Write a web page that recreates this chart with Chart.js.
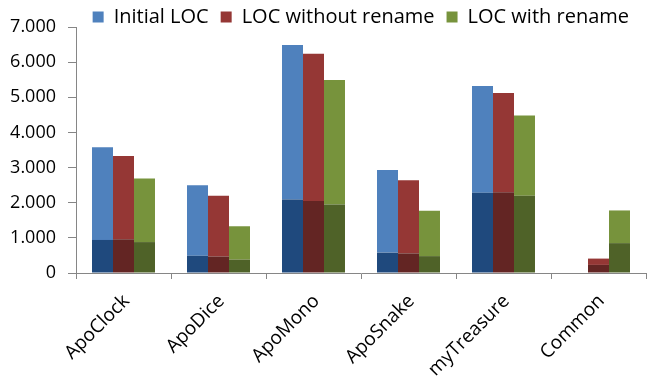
<!DOCTYPE html>
<html>
<head>
<meta charset="utf-8">
<script src="https://cdn.jsdelivr.net/npm/chart.js@4/dist/chart.umd.min.js"></script>
<style>
  html, body { margin: 0; padding: 0; background: #ffffff; }
  #wrap { width: 647px; height: 377px; }
</style>
</head>
<body>
<div id="wrap"><canvas id="c" width="647" height="377"></canvas></div>
<script>
// Projects compared
const categories = ['ApoClock', 'ApoDice', 'ApoMono', 'ApoSnake', 'myTreasure', 'Common'];

// Total lines of code per variant
const initialTotal   = [3580, 2500, 6490, 2930, 5320, 0];
const noRenameTotal  = [3330, 2200, 6240, 2640, 5120, 410];
const renameTotal    = [2690, 1330, 5490, 1770, 4480, 1780];

// Dark lower part of each bar
const initialBase    = [940, 490, 2090, 580, 2280, 0];
const noRenameBase   = [960, 470, 2050, 560, 2300, 230];
const renameBase     = [880, 380, 1950, 480, 2200, 850];

// Value-axis tick labels
const yTicks = ['0', '1.000', '2.000', '3.000', '4.000', '5.000', '6.000', '7.000'];

const seriesNames = ['Initial LOC', 'LOC without rename', 'LOC with rename'];
const lightColors = ['#4F81BD', '#953735', '#77933C'];
const darkColors  = ['#1F497D', '#632523', '#4F6228'];

const totals = [initialTotal, noRenameTotal, renameTotal];
const bases  = [initialBase, noRenameBase, renameBase];

const datasets = [];
totals.forEach((tot, i) => {
  datasets.push({
    label: seriesNames[i] + ' (base)',
    data: bases[i],
    backgroundColor: darkColors[i],
    stack: 's' + i,
    isBase: true
  });
  datasets.push({
    label: seriesNames[i],
    data: tot.map((v, k) => Math.max(0, v - bases[i][k])),
    backgroundColor: lightColors[i],
    stack: 's' + i,
    isBase: false
  });
});

const axisColor = '#868686';
const FONT = '"Open Sans", sans-serif';

// Keeps the legend strip compact and places its row over the plot area
const legendPlace = {
  id: 'legendPlace',
  beforeLayout(chart) {
    const lg = chart.legend;
    if (!lg || lg._fitWrapped) return;
    const fit = lg.fit.bind(lg);
    lg.fit = function () {
      fit();
      this.height = 27;
      this.minSize = { width: this.width, height: this.height };
    };
    lg._fitWrapped = true;
  },
  afterLayout(chart) {
    const lg = chart.legend;
    if (!lg) return;
    lg.top -= 5;
    lg.right -= 5;
  }
};

new Chart(document.getElementById('c'), {
  type: 'bar',
  data: { labels: categories, datasets },
  plugins: [legendPlace],
  options: {
    responsive: false,
    animation: false,
    devicePixelRatio: 1,
    layout: { padding: { left: 0, right: 1, top: 0, bottom: 0 } },
    datasets: {
      bar: { categoryPercentage: 0.663, barPercentage: 1.0, borderWidth: 0 }
    },
    plugins: {
      tooltip: { enabled: false },
      legend: {
        position: 'top',
        align: 'end',
        labels: {
          filter: (item, data) => !data.datasets[item.datasetIndex].isBase,
          boxWidth: 11,
          boxHeight: 11,
          padding: 12,
          color: '#000000',
          font: { family: FONT, size: 20 }
        }
      }
    },
    scales: {
      x: {
        stacked: true,
        afterFit: s => { s.height = 104; },
        grid: {
          drawOnChartArea: false,
          drawTicks: true,
          tickLength: 6,
          color: axisColor,
          offset: true
        },
        border: { color: axisColor, width: 1 },
        ticks: {
          color: '#000000',
          font: { family: FONT, size: 19 },
          minRotation: 45,
          maxRotation: 45,
          padding: 11,
          labelOffset: 3
        }
      },
      y: {
        stacked: true,
        min: 0,
        max: 7000,
        afterFit: s => { s.width = 76; },
        grid: {
          drawOnChartArea: false,
          drawTicks: true,
          tickLength: 8,
          color: axisColor
        },
        border: { color: axisColor, width: 1 },
        ticks: {
          stepSize: 1000,
          color: '#000000',
          font: { family: FONT, size: 18 },
          padding: 12,
          callback: (v, idx) => yTicks[idx]
        }
      }
    }
  }
});
</script>
</body>
</html>
